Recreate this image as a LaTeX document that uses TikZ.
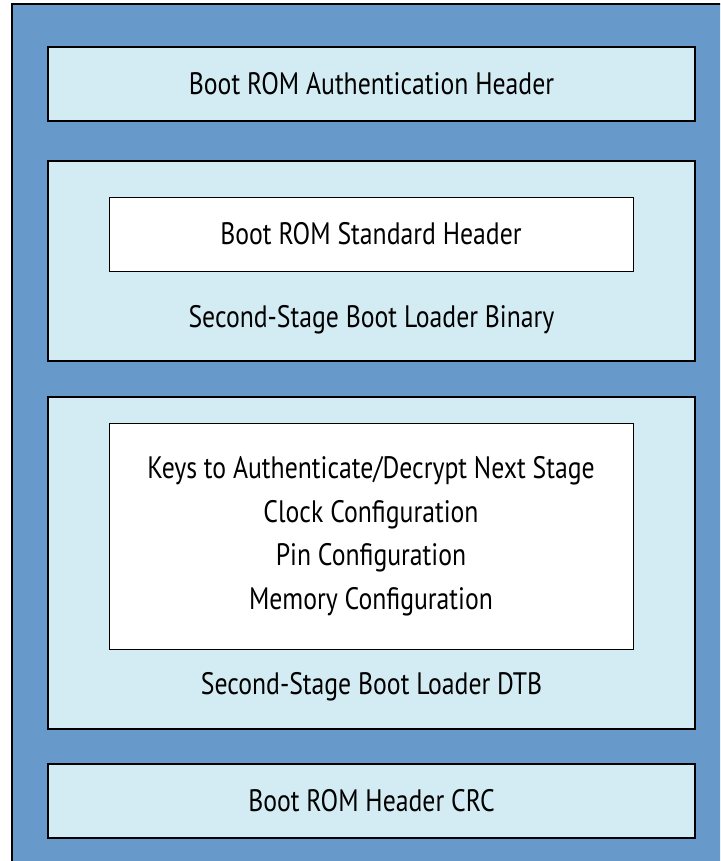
\documentclass[tikz,border=0pt]{standalone}
\usepackage{fontspec}
\setmainfont{PT Sans}[FakeStretch=0.83]
\definecolor{bootblue}{RGB}{103,153,203}
\definecolor{bootpale}{RGB}{211,236,243}
\tikzset{
  section/.style={draw=black, fill=bootpale, line width=1.5pt,
    minimum width=647pt, inner sep=0pt},
  inset/.style={draw=black, fill=white, line width=1pt,
    minimum width=524pt, inner sep=0pt},
  boottext/.style={align=center, inner sep=0pt}
}

\begin{document}
\begin{tikzpicture}[x=1pt, y=-1pt, font=\fontsize{31}{43.5}\selectfont]

  \useasboundingbox (0,0) rectangle (720,861);
  \clip (0,0) rectangle (720,861);

  % Outer frame (runs off right and bottom)
  \draw[fill=bootblue, line width=1.3pt] (12,4) rectangle (740,880);

  % Authentication header
  \node[section, line width=2pt, minimum height=74pt] (authhdr)
    at (371.5,84) {Boot ROM Authentication Header};

  % Second-stage binary
  \node[section, minimum height=200pt] (ssbin) at (371.5,261) {};
  \node[inset, minimum height=74pt] (stdhdr)
    at (371,234) {Boot ROM Standard Header};
  \node[boottext] (bintxt) at (371.5,320)
    {Second-Stage Boot Loader Binary};

  % Second-stage DTB
  \node[section, minimum height=332pt] (ssdtb) at (371.5,563) {};
  \node[inset, minimum height=226pt] (dtbinfo) at (371,536) {};
  \node[boottext] (dtblist) at (dtbinfo.center)
    {Keys to Authenticate/Decrypt Next Stage\\
     Clock Configuration\\
     Pin Configuration\\
     Memory Configuration};
  \node[boottext] (dtbtxt) at (371.5,687)
    {Second-Stage Boot Loader DTB};

  % Header CRC
  \node[section, line width=2pt, minimum height=74pt] (crc)
    at (371.5,801) {Boot ROM Header CRC};

\end{tikzpicture}
\end{document}
